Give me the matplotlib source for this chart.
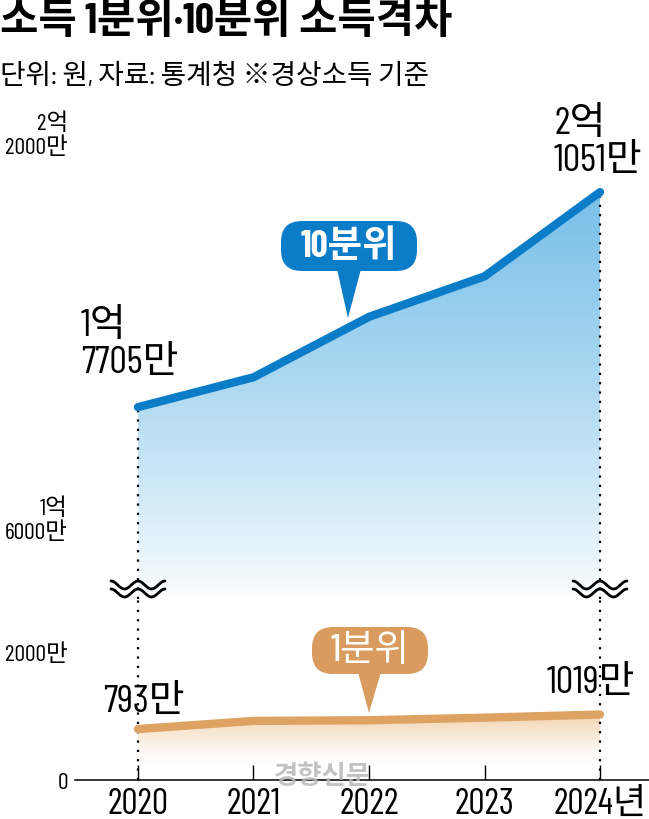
import numpy as np
import matplotlib
matplotlib.use('Agg')
import matplotlib.pyplot as plt
from matplotlib.patches import FancyBboxPatch, Polygon

# ---------------- data (만원) ----------------
years = [2020, 2021, 2022, 2023, 2024]
year_labels = ['2020', '2021', '2022', '2023', '2024년']
top10 = [17705, 18170, 19110, 19740, 21051]
bottom1 = [793, 920, 930, 970, 1019]
top_ticks = [16000, 22000]
top_tick_labels = ['1억\n6000만', '2억\n2000만']
bot_ticks = [0, 2000]
bot_tick_labels = ['0', '2000만']
title = '소득 1분위·10분위 소득격차'
subtitle = '단위: 원, 자료: 통계청 ※경상소득 기준'

FONT = ['Barlow Condensed', 'Noto Sans CJK KR', 'DejaVu Sans']
plt.rcParams['font.family'] = FONT

BLUE = '#0b7cc8'
ORANGE = '#dea263'
ORANGE_BOX = '#d99c5e'
BLUE_FILL = (0.47, 0.75, 0.91)
ORANGE_FILL = (0.95, 0.83, 0.69)

W, H = 649, 820
fig = plt.figure(figsize=(W / 100, H / 100), dpi=100)

def rect(l, t, r, b):
    return [l / W, (H - b) / H, (r - l) / W, (b - t) / H]

xlim = (2019.455, 2024.424)
ax_top = fig.add_axes(rect(75, 100, 649, 600))
ax_bot = fig.add_axes(rect(75, 600, 649, 781))

def gradient_fill(ax, xs, ys, y_lo, color, gamma):
    poly = ax.fill_between(xs, ys, y_lo, facecolor='none', edgecolor='none')
    n = 256
    t = np.linspace(0, 1, n)[:, None] ** gamma
    c = np.array(color)
    img = np.ones((n, 1, 3)) * (1 - t[..., None]) + c * t[..., None]
    im = ax.imshow(img, extent=[xs[0], xs[-1], y_lo, max(ys)], origin='lower',
                   aspect='auto', zorder=1, interpolation='bilinear')
    im.set_clip_path(poly.get_paths()[0], ax.transData)

gradient_fill(ax_top, years, top10, 14720, BLUE_FILL, 0.8)
gradient_fill(ax_bot, years, bottom1, 250, ORANGE_FILL, 1.3)
ax_top.set_xlim(*xlim); ax_top.set_ylim(14720, 22500)
ax_bot.set_xlim(*xlim); ax_bot.set_ylim(0, 2817)

ax_top.plot(years, top10, color=BLUE, lw=6, solid_capstyle='round',
            solid_joinstyle='round', zorder=4)
ax_bot.plot(years, bottom1, color=ORANGE, lw=6, solid_capstyle='round',
            solid_joinstyle='round', zorder=4)

dot = (0, (1, 3.2))
for i in (0, -1):
    ax_top.vlines(years[i], 14720, top10[i], colors='black', lw=1.6,
                  linestyles=[dot], zorder=3)
    ax_bot.vlines(years[i], 0, 2817, colors='black', lw=1.6,
                  linestyles=[dot], zorder=3)

for ax in (ax_top, ax_bot):
    for s in ax.spines.values():
        s.set_visible(False)
    ax.set_facecolor('none')

ax_top.set_xticks([])
ax_top.set_yticks(top_ticks, top_tick_labels, fontsize=17)
ax_top.tick_params(axis='y', length=0, pad=5)
for lbl in ax_top.get_yticklabels():
    lbl.set_linespacing(1.15)

ax_bot.spines['bottom'].set_visible(True)
ax_bot.spines['bottom'].set_linewidth(1.1)
ax_bot.set_yticks(bot_ticks, bot_tick_labels, fontsize=17)
ax_bot.tick_params(axis='y', length=0, pad=5)
ax_bot.set_xticks(years, year_labels, fontsize=26)
ax_bot.tick_params(axis='x', direction='in', length=11, width=1, pad=5)

# ---------------- overlay (pixel coordinates) ----------------
ov = fig.add_axes([0, 0, 1, 1], zorder=10)
ov.set_xlim(0, W)
ov.set_ylim(H, 0)
ov.axis('off')
ov.patch.set_alpha(0)

ov.text(0, 22, title, fontsize=30, fontweight='bold', va='center', ha='left')
ov.text(0, 76, subtitle, fontsize=20, va='center', ha='left')

ov.text(81, 345, '1억\n7705만', fontsize=28, va='center', ha='left', linespacing=1.1)
ov.text(554, 143, '2억\n1051만', fontsize=28, va='center', ha='left', linespacing=1.1)
ov.text(103, 703, '793만', fontsize=28, va='center', ha='left')
ov.text(547, 684, '1019만', fontsize=28, va='center', ha='left')

def callout(x0, y0, x1, y1, tip, base, color, label, weight):
    box = FancyBboxPatch((x0, y0), x1 - x0, y1 - y0,
                         boxstyle='round,pad=0,rounding_size=21',
                         facecolor=color, edgecolor='none')
    ov.add_patch(box)
    tri = Polygon([(base[0], y1 - 2), (base[1], y1 - 2), tip],
                  closed=True, facecolor=color, edgecolor='none')
    ov.add_patch(tri)
    ov.text((x0 + x1) / 2, (y0 + y1) / 2, label, color='white', fontsize=27,
            fontweight=weight, ha='center', va='center')

callout(281, 222, 417, 272, (348, 319), (337, 361), BLUE, '10분위', 'bold')
callout(312, 628, 428, 675, (369, 714), (358, 381), ORANGE_BOX, '1분위', 'medium')

# break symbols
xs = np.linspace(-27, 27, 200)
for cx in (138, 600):
    for dy in (-4, 4):
        ov.plot(cx + xs, 590 + dy - 4 * np.cos(2 * np.pi * xs / 27),
                color='black', lw=2, solid_capstyle='round')

# watermark
ov.text(322, 777, '경향신문', fontsize=19, color='#b8b8b8', alpha=0.85,
        ha='center', va='center', fontweight='bold', family=['Noto Sans CJK KR'])

fig.savefig('out.png', dpi=100)
